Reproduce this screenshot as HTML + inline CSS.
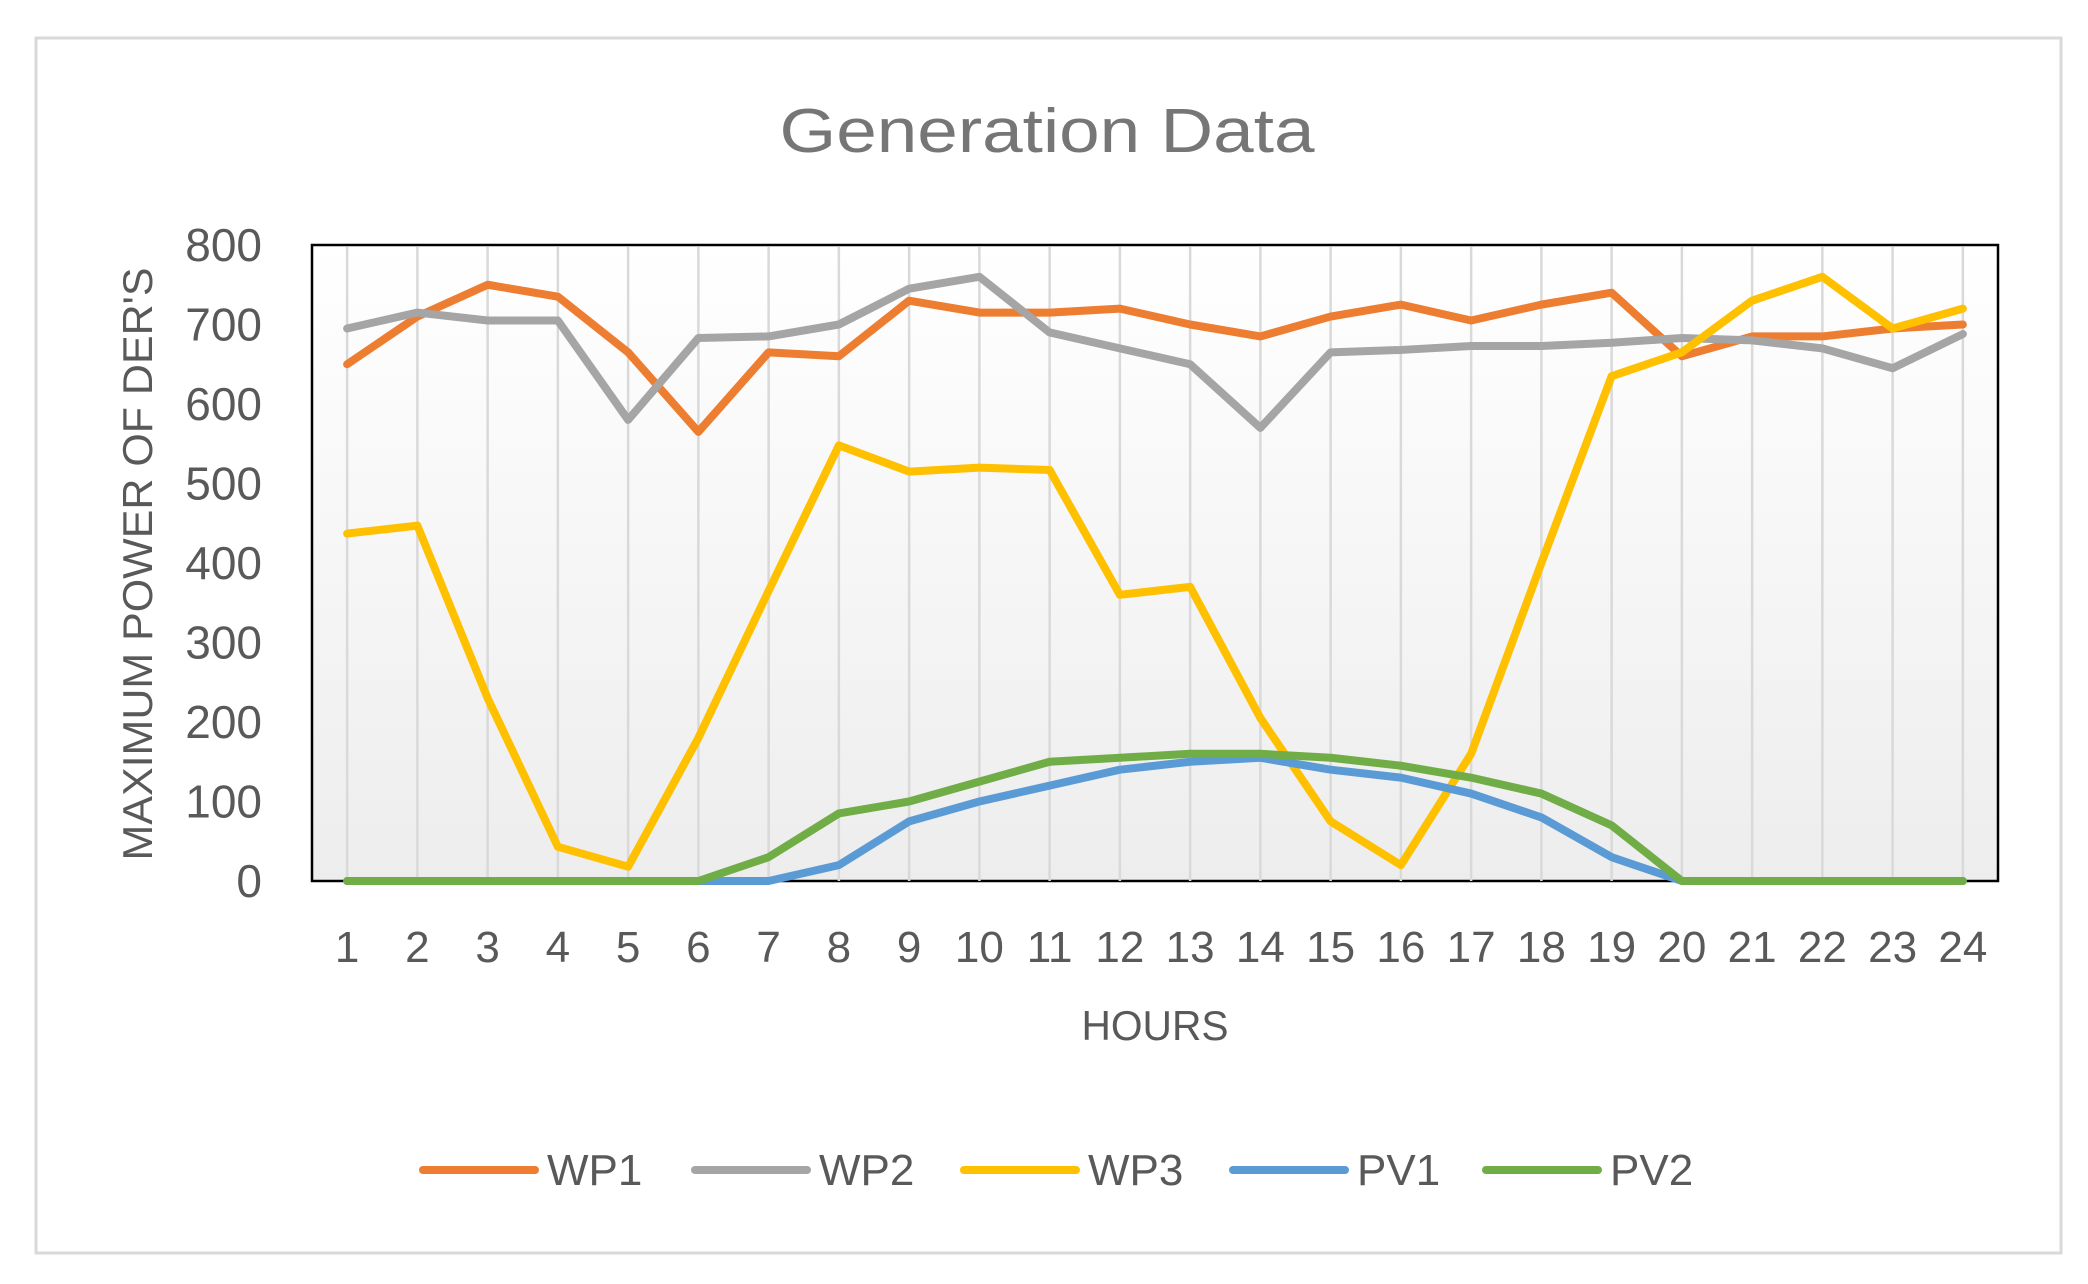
<!DOCTYPE html>
<html><head><meta charset="utf-8"><style>
html,body{margin:0;padding:0;background:#fff;}
svg{display:block;font-family:"Liberation Sans",sans-serif;}
</style></head><body>
<svg id="chart" width="2088" height="1284" viewBox="0 0 2088 1284" xmlns="http://www.w3.org/2000/svg">
<defs><linearGradient id="bg" x1="0" y1="0" x2="0" y2="1"><stop offset="0" stop-color="#ffffff"/><stop offset="1" stop-color="#ededed"/></linearGradient></defs>
<rect x="36" y="38" width="2025" height="1215" fill="#fff" stroke="#d9d9d9" stroke-width="3"/>
<text x="1047" y="152" text-anchor="middle" font-size="62" fill="#767676" textLength="535" lengthAdjust="spacingAndGlyphs">Generation Data</text>
<rect x="312" y="245" width="1686" height="636" fill="url(#bg)" stroke="#000" stroke-width="2.5"/>
<g id="grid"></g><g id="series"></g><g id="ticks"></g>
<text transform="translate(152,564) rotate(-90)" text-anchor="middle" font-size="42" fill="#595959" textLength="593" lengthAdjust="spacingAndGlyphs">MAXIMUM POWER OF DER'S</text>
<text x="1155" y="1040" text-anchor="middle" font-size="42" fill="#595959" textLength="147" lengthAdjust="spacingAndGlyphs">HOURS</text>
<g id="legend"></g>
</svg>
<script>
const categories=[1,2,3,4,5,6,7,8,9,10,11,12,13,14,15,16,17,18,19,20,21,22,23,24];
const yTicks=[0,100,200,300,400,500,600,700,800];
const seriesNames=["WP1","WP2","WP3","PV1","PV2"];
const seriesColors=["#ED7D31","#A5A5A5","#FFC000","#5B9BD5","#70AD47"];
const wp1=[650,710,750,735,665,565,665,660,730,715,715,720,700,685,710,725,705,725,740,660,685,685,695,700];
const wp2=[695,715,705,705,580,683,685,700,745,760,690,670,650,570,665,668,673,673,677,683,680,670,645,688];
const wp3=[437,447,230,43,18,180,365,548,515,520,517,360,370,205,75,20,160,400,635,665,730,760,695,720];
const pv1=[0,0,0,0,0,0,0,20,75,100,120,140,150,155,140,130,110,80,30,0,0,0,0,0];
const pv2=[0,0,0,0,0,0,30,85,100,125,150,155,160,160,155,145,130,110,70,0,0,0,0,0];
const NS="http://www.w3.org/2000/svg";
const L=312,R=1998,T=245,B=881,yMax=800;
const xs=i=>L+(i+0.5)*(R-L)/categories.length;
const ys=v=>B-v/yMax*(B-T);
function mk(tag,attrs,parent){const e=document.createElementNS(NS,tag);for(const k in attrs)e.setAttribute(k,attrs[k]);parent.appendChild(e);return e;}
const grid=document.getElementById('grid'),ser=document.getElementById('series'),tk=document.getElementById('ticks'),lg=document.getElementById('legend');
categories.forEach((c,i)=>{
  const g=mk('line',{x1:xs(i),x2:xs(i),y1:T+2,y2:B,stroke:'#d9d9d9','stroke-width':2.5},grid);
  
  
  const t=mk('text',{x:xs(i),y:962,'text-anchor':'middle','font-size':44,fill:'#595959'},tk);
  t.textContent=c;
  
  
});
yTicks.forEach(v=>{
  const t=mk('text',{x:262,y:ys(v)+16,'text-anchor':'end','font-size':46,fill:'#595959'},tk);
  t.textContent=v;
  
  
});
const allSeries=[wp1,wp2,wp3,pv1,pv2];
allSeries.forEach((d,s)=>{
  const p=mk('polyline',{points:d.map((v,i)=>xs(i)+','+ys(v)).join(' '),fill:'none',stroke:seriesColors[s],'stroke-width':8,'stroke-linejoin':'round','stroke-linecap':'round'},ser);
  
  
});
const legX=[423,695,964,1233,1486];
seriesNames.forEach((n,s)=>{
  const g=mk('g',{},lg);
  
  
  mk('line',{x1:legX[s],x2:legX[s]+112,y1:1170,y2:1170,stroke:seriesColors[s],'stroke-width':8,'stroke-linecap':'round'},g);
  const t=mk('text',{x:legX[s]+124,y:1185,'font-size':44,fill:'#595959'},g);
  t.textContent=n;
});
</script>
</body></html>
